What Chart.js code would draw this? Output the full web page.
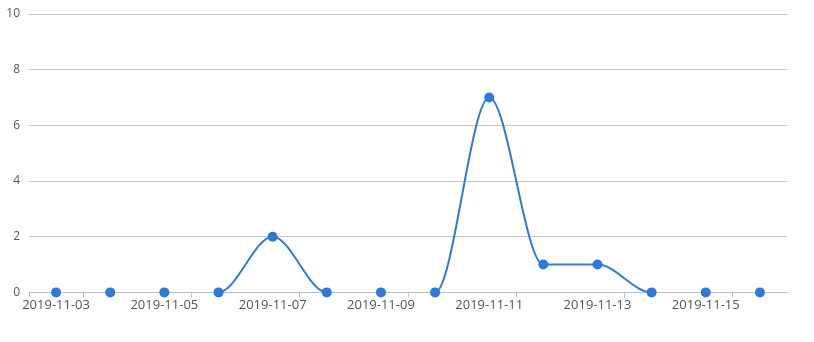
<!DOCTYPE html>
<html><head><meta charset="utf-8">
<script src="https://cdn.jsdelivr.net/npm/chart.js@4"></script>
<style>html,body{margin:0;padding:0;background:#fff}#wrap{width:814px;height:342px}</style>
</head><body><div id="wrap"><canvas id="c"></canvas></div>
<script>
const categories = ['2019-11-03','2019-11-04','2019-11-05','2019-11-06','2019-11-07','2019-11-08','2019-11-09','2019-11-10','2019-11-11','2019-11-12','2019-11-13','2019-11-14','2019-11-15','2019-11-16'];
const values = [0,0,0,0,2,0,0,0,7,1,1,0,0,0];
const yTicks = [0,2,4,6,8,10];
const lineColor = '#2f7ad6';

new Chart(document.getElementById('c'), {
  type: 'line',
  data: { labels: categories, datasets: [{
    data: values,
    borderColor: lineColor,
    backgroundColor: lineColor,
    borderWidth: 2,
    pointRadius: 5,
    pointBorderWidth: 0,
    cubicInterpolationMode: 'monotone',
    fill: false,
    clip: false,
    segment: {
      borderColor: (ctx) => (ctx.p0.parsed.y === 0 && ctx.p1.parsed.y === 0) ? 'rgba(0,0,0,0)' : lineColor
    }
  }]},
  options: {
    responsive: true, maintainAspectRatio: false, animation: false,
    layout: { padding: { left: 0, right: 27, top: 14, bottom: 29 } },
    plugins: { legend: { display: false }, tooltip: { enabled: false } },
    scales: {
      x: {
        offset: true,
        grid: {
          offset: true, drawOnChartArea: false, drawTicks: true, tickLength: 5,
          color: (ctx) => (ctx.index === 0 || ctx.index % 2 === 1) && ctx.index < 14 ? '#b7c3d3' : 'rgba(0,0,0,0)'
        },
        border: { color: '#b7c3d3', width: 1 },
        ticks: {
          autoSkip: false, maxRotation: 0, color: '#555', padding: 0,
          font: { family: 'Open Sans', size: 13 },
          callback: function(v, i) { return i % 2 === 0 ? categories[i] : ''; }
        }
      },
      y: {
        min: 0, max: 10,
        afterFit: (s) => { s.width = 29; s.paddingTop = 0; s.paddingBottom = 0; },
        afterBuildTicks: (s) => { s.ticks = yTicks.map(v => ({ value: v })); },
        grid: { color: '#c8c8c8', drawTicks: false, lineWidth: 1 },
        border: { display: false },
        ticks: { color: '#555', padding: 9, font: { family: 'Open Sans', size: 12 } }
      }
    }
  }
});
</script></body></html>
